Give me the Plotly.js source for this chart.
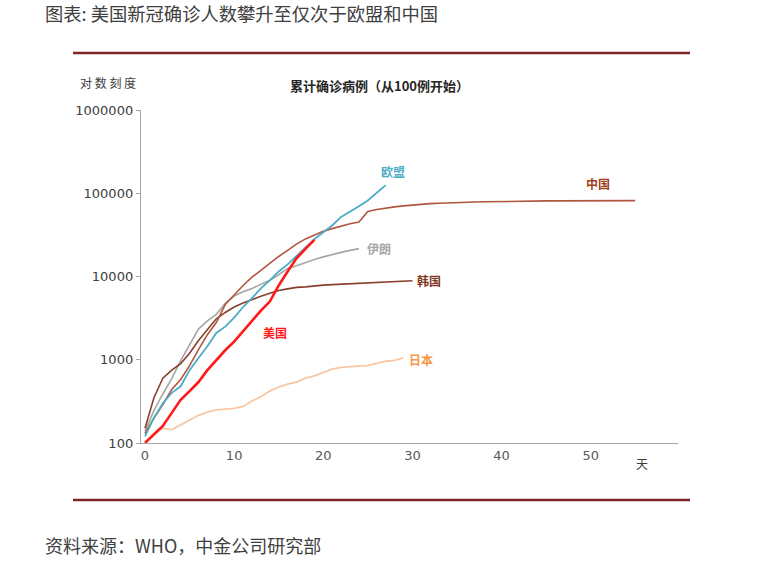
<!DOCTYPE html>
<html>
<head>
<meta charset="utf-8">
<script src="https://cdn.plot.ly/plotly-3.0.1.min.js"></script>
<style>
html,body{margin:0;padding:0;background:#fff;}
#chart{width:760px;height:567px;}
</style>
</head>
<body>
<div id="chart"></div>
<script>
// ---- data (cumulative confirmed cases, day 0 = first day at ~100 cases) ----
const china = [130, 200, 290, 440, 580, 850, 1320, 2000, 2800, 4600, 6000, 7800, 9800, 11900, 14500, 17400, 20600, 24500, 28300, 31500, 34900, 37600, 40500, 43100, 45200, 60300, 63900, 66600, 68600, 70600, 72500, 74300, 75100, 75900, 76900, 77800, 78200, 78600, 78900, 79400, 79900, 80200, 80400, 80600, 80800, 80900, 80900, 81000, 81000, 81100, 81100, 81200, 81300, 81400, 81500, 81600];
const korea = [150, 350, 600, 750, 900, 1200, 1700, 2300, 3100, 3700, 4300, 4800, 5300, 5800, 6300, 6800, 7100, 7400, 7500, 7750, 7870, 7980, 8090, 8160, 8240, 8320, 8410, 8570, 8650, 8800, 8900];
const iran = [139, 245, 388, 593, 978, 1501, 2336, 2922, 3513, 4747, 5823, 6566, 7161, 8042, 9000, 10500, 12500, 13500, 14800, 16000, 17200, 18400, 19500, 20600, 21600];
const eu = [120, 200, 300, 400, 480, 750, 1050, 1450, 2100, 2500, 3200, 4300, 5500, 7200, 9000, 11500, 14000, 17500, 22000, 28000, 34000, 41000, 52000, 60000, 70000, 82000, 100000, 125000];
const usa = [100, 125, 160, 230, 330, 420, 540, 750, 1000, 1300, 1650, 2200, 2900, 3900, 5000, 7800, 11500, 16500, 21500, 27500];
const japan = [100, 130, 150, 145, 165, 190, 215, 235, 250, 255, 260, 275, 320, 360, 420, 470, 510, 540, 600, 640, 700, 770, 810, 830, 840, 850, 900, 960, 980, 1050];

const xTicks = [0, 10, 20, 30, 40, 50];
const yTicks = [100, 1000, 10000, 100000, 1000000];
const yTickText = ['100', '1000', '10000', '100000', '1000000'];

const names = ['中国', '韩国', '伊朗', '欧盟', '美国', '日本'];

// ---- styles ----
const colors = {
  '中国': '#B0563F', '韩国': '#8A3F2C', '伊朗': '#A6A6A6',
  '欧盟': '#4BACC6', '美国': '#FF1A1A', '日本': '#F8C7A4'
};
const widths = {'中国': 1.6, '韩国': 1.6, '伊朗': 1.6, '欧盟': 1.8, '美国': 2.6, '日本': 1.8};
const labelColors = {
  '中国': '#A0401F', '韩国': '#7F3520', '伊朗': '#A6A6A6',
  '欧盟': '#4BACC6', '美国': '#FF1A1A', '日本': '#F79646'
};
// label positions [day, log10 value]
const labelPos = {
  '中国': [50.8, 5.12], '韩国': [31.9, 3.95], '伊朗': [26.2, 4.34],
  '欧盟': [27.8, 5.26], '美国': [14.6, 3.33], '日本': [31.0, 3.0]
};

const series = {'中国': china, '韩国': korea, '伊朗': iran, '欧盟': eu, '美国': usa, '日本': japan};

const traces = names.map(n => ({
  type: 'scatter', mode: 'lines', name: n,
  x: series[n].map((_, i) => i),
  y: series[n],
  line: {color: colors[n], width: widths[n]},
  hoverinfo: 'skip'
}));
const order = ['日本', '伊朗', '韩国', '中国', '欧盟', '美国'];
const data = order.map(n => traces[names.indexOf(n)]);

// geometry helpers (plot area 141..678 x, 110..443 y)
const L = 141, R = 678, T = 110, B = 443;
const px = v => (v - L) / (R - L);
const py = v => (B - v) / (B - T);

const cjk = '"Noto Sans CJK SC", "Noto Sans", sans-serif';

const annotations = names.map(n => ({
  x: labelPos[n][0], y: labelPos[n][1], xref: 'x', yref: 'y',
  text: '<b>' + n + '</b>', showarrow: false,
  font: {family: cjk, size: 12, color: labelColors[n]},
  xanchor: 'center', yanchor: 'middle'
}));

annotations.push(
  {xref: 'paper', yref: 'paper', x: px(43), y: py(13), text: '图表: 美国新冠确诊人数攀升至仅次于欧盟和中国',
   showarrow: false, xanchor: 'left', yanchor: 'middle', font: {family: cjk, size: 18.3, color: '#404040'}},
  {xref: 'paper', yref: 'paper', x: px(43), y: py(545), text: '资料来源：WHO，中金公司研究部',
   showarrow: false, xanchor: 'left', yanchor: 'middle', font: {family: cjk, size: 18, color: '#404040'}},
  {xref: 'paper', yref: 'paper', x: px(379), y: py(85), text: '<b>累计确诊病例（从100例开始）</b>',
   showarrow: false, xanchor: 'center', yanchor: 'middle', font: {family: cjk, size: 13, color: '#262626'}},
  {xref: 'paper', yref: 'paper', x: px(108), y: py(83), text: '对 数 刻 度',
   showarrow: false, xanchor: 'center', yanchor: 'middle', font: {family: cjk, size: 12, color: '#404040'}},
  {xref: 'paper', yref: 'paper', x: px(642), y: py(463), text: '天',
   showarrow: false, xanchor: 'center', yanchor: 'middle', font: {family: cjk, size: 12, color: '#404040'}}
);

const shapes = [
  {type: 'line', xref: 'paper', yref: 'paper', x0: px(73), x1: px(690), y0: py(53), y1: py(53),
   line: {color: '#7E2424', width: 2.5}},
  {type: 'line', xref: 'paper', yref: 'paper', x0: px(73), x1: px(690), y0: py(500), y1: py(500),
   line: {color: '#7E2424', width: 2.5}}
];

const layout = {
  width: 760, height: 567,
  margin: {l: L, r: 760 - R, t: T, b: 567 - B, pad: 0},
  paper_bgcolor: '#ffffff', plot_bgcolor: '#ffffff',
  showlegend: false,
  font: {family: '"DejaVu Sans", Verdana, sans-serif', size: 13, color: '#595959'},
  xaxis: {
    range: [-0.45, 59.8], tickvals: xTicks, ticktext: xTicks.map(String),
    showgrid: false, zeroline: false, showline: true, linecolor: '#A6A6A6', linewidth: 1.2,
    ticks: '', ticklen: 0, tickfont: {family: '"DejaVu Sans", Verdana, sans-serif', size: 13, color: '#595959'},
    fixedrange: true
  },
  yaxis: {
    type: 'log', range: [2, 6], tickvals: yTicks, ticktext: yTickText,
    showgrid: false, zeroline: false, showline: true, linecolor: '#A6A6A6', linewidth: 1.2,
    ticks: 'outside', ticklen: 4, tickcolor: '#A6A6A6', tickwidth: 1,
    tickfont: {family: '"DejaVu Sans", Verdana, sans-serif', size: 13, color: '#404040'},
    fixedrange: true
  },
  annotations: annotations,
  shapes: shapes
};

Plotly.newPlot('chart', data, layout, {displayModeBar: false, staticPlot: true});
</script>
</body>
</html>
